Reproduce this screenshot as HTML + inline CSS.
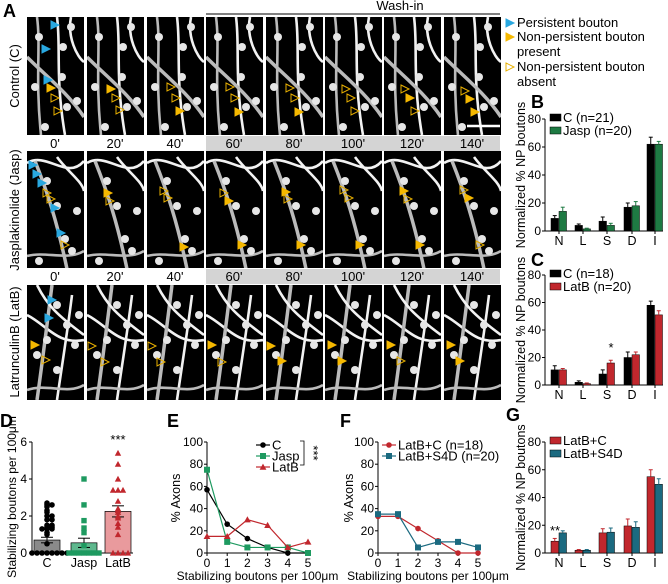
<!DOCTYPE html>
<html><head><meta charset="utf-8">
<style>
body{margin:0;background:#fff;}
svg{display:block;font-family:"Liberation Sans",Arial,sans-serif;}
</style></head>
<body>
<svg id="fig" width="668" height="584" viewBox="0 0 668 584">
<g id="panelA"></g>
<g id="charts"></g>
</svg>
<script>
// ---------- data ----------
const barCats = ["N","L","S","D","I"];
const bC1 = [9,4,7,17,62];
const bC1err = [2,1,3,3,5];
const bJasp = [14,1.5,4,18,62];
const bJaspErr = [3,0.5,1.5,3,2];
const cC2 = [11,2,8,20,58];
const cC2err = [3,1,3,4,3];
const cLatB = [11,1,16,22,51];
const cLatBerr = [1,0.5,2,2,3];
const gLatBC = [8.5,2,14.5,19.5,55];
const gLatBCerr = [2,0.5,3,5,5];
const gS4D = [14.5,2,15,18.5,49.5];
const gS4Derr = [1.5,0.5,3,4,4];
const barTicks = [0,20,40,60,80];

const dGroups = ["C","Jasp","LatB"];
const dMeans = [0.7,0.55,2.25];
const dErr = [0.15,0.25,0.3];
const dPtsC = [2.7,2.6,2.6,2.5,2.3,2.2,2.0,2.0,1.8,1.8,1.5,1.5,1.4,1.4,1.3,1.3,1.3,1.1,1.0,0.5,0,0,0,0,0,0,0,0];
const dPtsJasp = [4,2.6,1.75,1.35,1.1,0.4,0,0,0,0,0,0,0];
const dPtsLatB = [5.4,4.8,4,3.4,3.4,3.4,2.8,2.4,2.3,2.2,2,1.9,1.6,1.4,1,0,0,0,0];
const dTicks = [0,2,4,6];

const lineX = [0,1,2,3,4,5];
const eC = [57,26,13,5,0,0];
const eJasp = [75,10,5,5,5,0];
const eLatB = [15,15,30,25,5,10];
const fLatBC = [33,33,22,11,0,0];
const fS4D = [35,35,5,10,10,5];
const lineTicks = [0,20,40,60,80,100];

const NS="http://www.w3.org/2000/svg";
const charts=document.getElementById('charts');
function mk(tag,attrs,parent,text){const e=document.createElementNS(NS,tag);for(const k in attrs)e.setAttribute(k,attrs[k]);if(text!==undefined)e.textContent=text;(parent||charts).appendChild(e);return e;}
function txt(x,y,s,size,anchor,parent,extra){const t=mk('text',Object.assign({x:x,y:y,'font-size':size,'text-anchor':anchor||'middle',fill:'#000'},extra||{}),parent,s);return t;}

// ---------- panel A ----------
const A=document.getElementById('panelA');
const tileX=[27,87,147,206,266,325,384,444];
const rowY=[17,151,285];
const rowH=[118,117,115];
const times=["0'","20'","40'","60'","80'","100'","120'","140'"];
const rowPaths=[
 ["M30 0 C34 30 28 60 38 118","M0 40 C20 60 40 75 57 100","M44 0 C40 20 50 40 57 45","M10 0 C14 30 8 60 14 118"],
 ["M0 12 C20 0 40 30 57 10","M8 10 C20 40 30 70 40 118","M30 6 C40 20 55 30 57 40","M0 105 C20 100 40 110 57 100"],
 ["M0 30 C20 40 30 60 57 55","M25 0 C20 40 15 80 10 115","M45 10 C40 50 35 80 30 115","M0 105 C20 98 40 110 57 100","M10 0 C20 20 30 30 57 50"]
];
const blobs=[[[44,10],[35,60],[8,70],[40,90],[18,110],[36,30],[50,84],[12,20]],[[50,60],[20,30],[45,100],[12,110],[30,55],[38,88]],[[30,20],[48,60],[10,70],[40,40],[30,85],[20,55],[52,30]]];
for(let r=0;r<3;r++){
 for(let c=0;c<8;c++){
  const g=mk('g',{transform:`translate(${tileX[c]},${rowY[r]})`},A);
  
  
  mk('rect',{x:0,y:0,width:57,height:rowH[r],fill:'#000'},g);
  const cpp=mk('clipPath',{id:`cp${r}${c}`},g);
  mk('rect',{x:0,y:0,width:57,height:rowH[r]},cpp);
  const gg=mk('g',{'clip-path':`url(#cp${r}${c})`},g);
  rowPaths[r].forEach((p,i)=>mk('path',{d:p,stroke:i%2?'#bbb':'#f2f2f2','stroke-width':i==1?3.5:2.6,fill:'none'},gg));
  blobs[r].forEach(b=>mk('circle',{cx:b[0],cy:b[1],r:4,fill:'#e6e6e6'},gg));
 }
}
[135,268].forEach(y=>{
 mk('rect',{x:206,y:y+1,width:294,height:15,fill:'#d4d4d4'},A);
 for(let c=0;c<8;c++) txt(tileX[c]+28,y+13,times[c],13,'middle',A);
});
mk('line',{x1:206,y1:14,x2:500,y2:14,stroke:'#000','stroke-width':1},A);
txt(400,10,'Wash-in',13,'middle',A);
mk('line',{x1:467,y1:126,x2:500,y2:126,stroke:'#fff','stroke-width':2.5},A);
txt(3,17,'A',18,'start',A,{'font-weight':'bold'});
[['Control (C)',76],['Jasplakinolide (Jasp)',210],['LatrunculinB (LatB)',342]].forEach(([s,y])=>{
 const t=txt(0,0,s,13,'middle',A);t.setAttribute('transform',`translate(19,${y}) rotate(-90)`);
});
function arrow(x,y,color,filled,parent){
 mk('path',{d:`M${x} ${y-4} L${x+8} ${y} L${x} ${y+4} Z`,fill:filled?color:'none',stroke:color,'stroke-width':1},parent||A);
}
[[27+24,25,'#29a8e0',1],[27+15,49,'#29a8e0',1],[27+17,80,'#29a8e0',1],[27+20,88,'#f5b800',1],[27+24,98,'#e8b000',0],[27+27,111,'#e8b000',0],
 [87+20,89,'#f5b800',1],[87+25,98,'#e8b000',0],[87+29,110,'#e8b000',0],
 [147+20,87,'#e8b000',0],[147+25,98,'#e8b000',0],[147+29,111,'#f5b800',1],
 [206+20,87,'#e8b000',0],[206+25,98,'#e8b000',0],[206+29,112,'#f5b800',1],
 [266+20,88,'#e8b000',0],[266+25,98,'#e8b000',0],[266+29,112,'#f5b800',1],
 [325+17,89,'#e8b000',0],[325+22,98,'#e8b000',0],[325+26,111,'#e8b000',0],
 [384+17,89,'#e8b000',0],[384+22,98,'#f5b800',1],[384+27,111,'#e8b000',0],
 [444+17,91,'#e8b000',0],[444+22,99,'#f5b800',1],[444+27,112,'#f5b800',1],
 [29,165,'#29a8e0',1],[33,174,'#29a8e0',1],[38,183,'#29a8e0',1],[43,193,'#e8b000',0],[47,199,'#e8b000',0],[51,208,'#29a8e0',1],[57,233,'#29a8e0',1],[61,245,'#e8b000',0],
 [104,193,'#f5b800',1],[106,201,'#e8b000',0],[160,191,'#e8b000',0],[164,198,'#e8b000',0],[180,247,'#f5b800',1],
 [220,193,'#e8b000',0],[225,201,'#f5b800',1],[238,245,'#f5b800',1],[282,192,'#f5b800',1],[284,199,'#e8b000',0],[297,245,'#f5b800',1],
 [340,190,'#e8b000',0],[345,198,'#e8b000',0],[356,245,'#f5b800',1],[400,191,'#f5b800',1],[404,199,'#e8b000',0],[416,245,'#f5b800',1],
 [460,190,'#e8b000',0],[465,198,'#f5b800',1],[476,245,'#e8b000',0],
 [48,300,'#29a8e0',1],[45,318,'#29a8e0',1],[31,345,'#f5b800',1],[42,360,'#e8b000',0],
 [88,346,'#e8b000',0],[101,362,'#e8b000',0],[148,346,'#e8b000',0],[157,362,'#e8b000',0],
 [208,345,'#f5b800',1],[218,362,'#e8b000',0],[267,346,'#f5b800',1],[278,361,'#f5b800',1],
 [328,345,'#f5b800',1],[338,361,'#f5b800',1],[387,345,'#f5b800',1],[397,361,'#e8b000',0],
 [447,345,'#f5b800',1],[456,361,'#f5b800',1]
].forEach(a=>arrow(a[0],a[1],a[2],a[3]));
const lg=mk('g',{},A);
arrow(506,23,'#29a8e0',1,lg);txt(517,27,'Persistent bouton',13,'start',lg);
arrow(506,37,'#f5b800',1,lg);txt(517,41,'Non-persistent bouton',13,'start',lg);txt(517,56,'present',13,'start',lg);
arrow(506,67,'#e8b000',0,lg);txt(517,71,'Non-persistent bouton',13,'start',lg);txt(517,86,'absent',13,'start',lg);

// ---------- grouped bar charts ----------
function barChart(name,letter,lx,ly,y0,y80,s1,e1,c1,lab1,s2,e2,c2,lab2,stars){
 const g=mk('g',{});
 const ax=545, xs=[559,583,607,632,655];
 const y=v=>y0-(v/80)*(y0-y80);
 txt(lx,ly,letter,18,'start',g,{'font-weight':'bold'});
 mk('line',{x1:ax,y1:y(0),x2:ax,y2:y(80),stroke:'#000'},g);
 mk('line',{x1:ax,y1:y(0),x2:663,y2:y(0),stroke:'#000'},g);
 barTicks.forEach(t=>{mk('line',{x1:ax-3,y1:y(t),x2:ax,y2:y(t),stroke:'#000'},g);txt(ax-4,y(t)+4,String(t),12,'end',g);});
 barCats.forEach((c,i)=>{
  mk('line',{x1:xs[i],y1:y(0),x2:xs[i],y2:y(0)+3,stroke:'#000'},g);
  txt(xs[i],y(0)+14,c,12.5,'middle',g);
  [[s1,e1,c1,-8],[s2,e2,c2,0]].forEach(([s,e,col,off])=>{
   const b=mk('rect',{x:xs[i]+off,y:y(s[i]),width:7.5,height:y(0)-y(s[i]),fill:col,stroke:'#000','stroke-width':0.5},g);
   
   const cx=xs[i]+off+3.75;
   mk('line',{x1:cx,y1:y(s[i]),x2:cx,y2:y(s[i]+e[i]),stroke:col,'stroke-width':1},g);
   mk('line',{x1:cx-2,y1:y(s[i]+e[i]),x2:cx+2,y2:y(s[i]+e[i]),stroke:col,'stroke-width':1},g);
  });
 });
 if(stars) txt(xs[stars[0]]+stars[1],y(stars[2]),stars[3],13,'middle',g);
 mk('rect',{x:550,y:y(80)-5,width:11,height:7,fill:c1,stroke:'#000','stroke-width':0.5},g);
 txt(563,y(80)+3,lab1,13,'start',g);
 mk('rect',{x:550,y:y(80)+8,width:11,height:7,fill:c2,stroke:'#000','stroke-width':0.5},g);
 txt(563,y(80)+16,lab2,13,'start',g);
 const yl=txt(0,0,'Normalized % NP boutons',12.5,'middle',g);
 yl.setAttribute('transform',`translate(${ax-20},${(y0+y80)/2}) rotate(-90)`);
}
barChart('panel-b-jasp-bars','B',531,108,231,119,bC1,bC1err,'#000','C (n=21)',bJasp,bJaspErr,'#1e7a43','Jasp (n=20)',null);
barChart('panel-c-latb-bars','C',531,266,385,275,cC2,cC2err,'#000','C (n=18)',cLatB,cLatBerr,'#c1272d','LatB (n=20)',[2,4,24,'*']);
barChart('panel-g-s4d-bars','G',506,421,553,442,gLatBC,gLatBCerr,'#c1272d','LatB+C',gS4D,gS4Derr,'#1b6a80','LatB+S4D',[0,-4,13,'**']);

// ---------- panel D ----------
(function(){
 const g=mk('g',{});
 const ax=32,y0=553,y6=442;const y=v=>y0-(v/6)*(y0-y6);
 const xs=[47,84,118];
 txt(0,427,'D',18,'start',g,{'font-weight':'bold'});
 mk('line',{x1:ax,y1:y0,x2:ax,y2:y6,stroke:'#000'},g);
 mk('line',{x1:ax,y1:y0,x2:133,y2:y0,stroke:'#000'},g);
 dTicks.forEach(t=>{mk('line',{x1:ax-3,y1:y(t),x2:ax,y2:y(t),stroke:'#000'},g);txt(ax-5,y(t)+4,String(t),12,'end',g);});
 const fills=['#8a8a8a','#5fb88e','#e99a9d'],cols=['#000','#1e9a60','#c1272d'];
 const pts=[dPtsC,dPtsJasp,dPtsLatB];
 dGroups.forEach((n,i)=>{
  txt(xs[i],y0+14,n,12.5,'middle',g);
  const b=mk('rect',{x:xs[i]-13,y:y(dMeans[i]),width:26,height:y0-y(dMeans[i]),fill:fills[i],stroke:'#000','stroke-width':0.7},g);
  
  mk('line',{x1:xs[i],y1:y(dMeans[i]-dErr[i]),x2:xs[i],y2:y(dMeans[i]+dErr[i]),stroke:'#000'},g);
  [dMeans[i]-dErr[i],dMeans[i]+dErr[i]].forEach(v=>mk('line',{x1:xs[i]-6,y1:y(v),x2:xs[i]+6,y2:y(v),stroke:'#000'},g));
  const seen={};
  pts[i].forEach(v=>{
   const k=v.toFixed(1);seen[k]=(seen[k]||0)+1;const n2=seen[k]-1;
   const dx=(n2%2?1:-1)*Math.ceil(n2/2)*5;
   const cx=xs[i]+dx,cy=y(v);let m;
   if(i==0)m=mk('circle',{cx:cx,cy:cy,r:2.8,fill:cols[i]},g);
   else if(i==1)m=mk('rect',{x:cx-2.7,y:cy-2.7,width:5.4,height:5.4,fill:cols[i]},g);
   else m=mk('path',{d:`M${cx} ${cy-3.2} L${cx+3.2} ${cy+2.6} L${cx-3.2} ${cy+2.6} Z`,fill:cols[i]},g);
   
  });
 });
 txt(xs[2],y(5.9),'***',13,'middle',g);
 const yl=txt(0,0,'Stabilizing boutons per 100μm',12,'middle',g);
 yl.setAttribute('transform',`translate(16,497) rotate(-90)`);
})();

// ---------- line charts ----------
function lineChart(name,letter,lx,ax,ax5,series,legendX,ytitleX){
 const g=mk('g',{});
 const y0=553,y100=442;const y=v=>y0-(v/100)*(y0-y100);const x=v=>ax+v/5*(ax5-ax);
 txt(lx,427,letter,18,'start',g,{'font-weight':'bold'});
 mk('line',{x1:ax,y1:y0,x2:ax,y2:y100,stroke:'#000'},g);
 mk('line',{x1:ax,y1:y0,x2:ax5,y2:y0,stroke:'#000'},g);
 lineTicks.forEach(t=>{mk('line',{x1:ax-3,y1:y(t),x2:ax,y2:y(t),stroke:'#000'},g);txt(ax-4,y(t)+4,String(t),12,'end',g);});
 lineX.forEach(v=>{mk('line',{x1:x(v),y1:y0,x2:x(v),y2:y0+3,stroke:'#000'},g);txt(x(v),y0+14,String(v),12,'middle',g);});
 txt((ax+ax5)/2,580,'Stabilizing boutons per 100μm',12,'middle',g);
 const yl=txt(0,0,'% Axons',12.5,'middle',g);yl.setAttribute('transform',`translate(${ytitleX},498) rotate(-90)`);
 series.forEach((s,si)=>{
  const d=s.vals.map((v,i)=>(i?'L':'M')+x(lineX[i])+' '+y(v)).join(' ');
  const p=mk('path',{d:d,fill:'none',stroke:s.col,'stroke-width':1.2},g);
  
  s.vals.forEach((v,i)=>{
   const cx=x(lineX[i]),cy=y(v);let m;
   if(s.shape=='c')m=mk('circle',{cx:cx,cy:cy,r:2.8,fill:s.col},g);
   else if(s.shape=='s')m=mk('rect',{x:cx-3,y:cy-3,width:6,height:6,fill:s.col},g);
   else m=mk('path',{d:`M${cx} ${cy-3.4} L${cx+3.4} ${cy+2.7} L${cx-3.4} ${cy+2.7} Z`,fill:s.col},g);
   
  });
  const ly=445+si*11;
  mk('line',{x1:legendX,y1:ly,x2:legendX+14,y2:ly,stroke:s.col,'stroke-width':1.2},g);
  if(s.shape=='c')mk('circle',{cx:legendX+7,cy:ly,r:2.8,fill:s.col},g);
  else if(s.shape=='s')mk('rect',{x:legendX+4,y:ly-3,width:6,height:6,fill:s.col},g);
  else mk('path',{d:`M${legendX+7} ${ly-3.4} L${legendX+10.4} ${ly+2.7} L${legendX+3.6} ${ly+2.7} Z`,fill:s.col},g);
  txt(legendX+16,ly+4.5,s.label,13,'start',g);
 });
 return g;
}
const gE=lineChart('panel-e-line','E',167,207,308,[
 {key:'c',vals:eC,col:'#000',shape:'c',label:'C'},
 {key:'jasp',vals:eJasp,col:'#1e9a60',shape:'s',label:'Jasp'},
 {key:'latb',vals:eLatB,col:'#c1272d',shape:'t',label:'LatB'}],256,180);
mk('path',{d:'M300 441 L304 441 L304 465 L300 465',fill:'none',stroke:'#000','stroke-width':0.8},gE);
const st=txt(0,0,'***',13,'middle',gE);st.setAttribute('transform','translate(309,453) rotate(90)');
lineChart('panel-f-line','F',340,378,478,[
 {key:'latb-c',vals:fLatBC,col:'#c1272d',shape:'c',label:'LatB+C (n=18)'},
 {key:'latb-s4d',vals:fS4D,col:'#1b6a80',shape:'s',label:'LatB+S4D (n=20)'}],382,353);
</script>
</body></html>
